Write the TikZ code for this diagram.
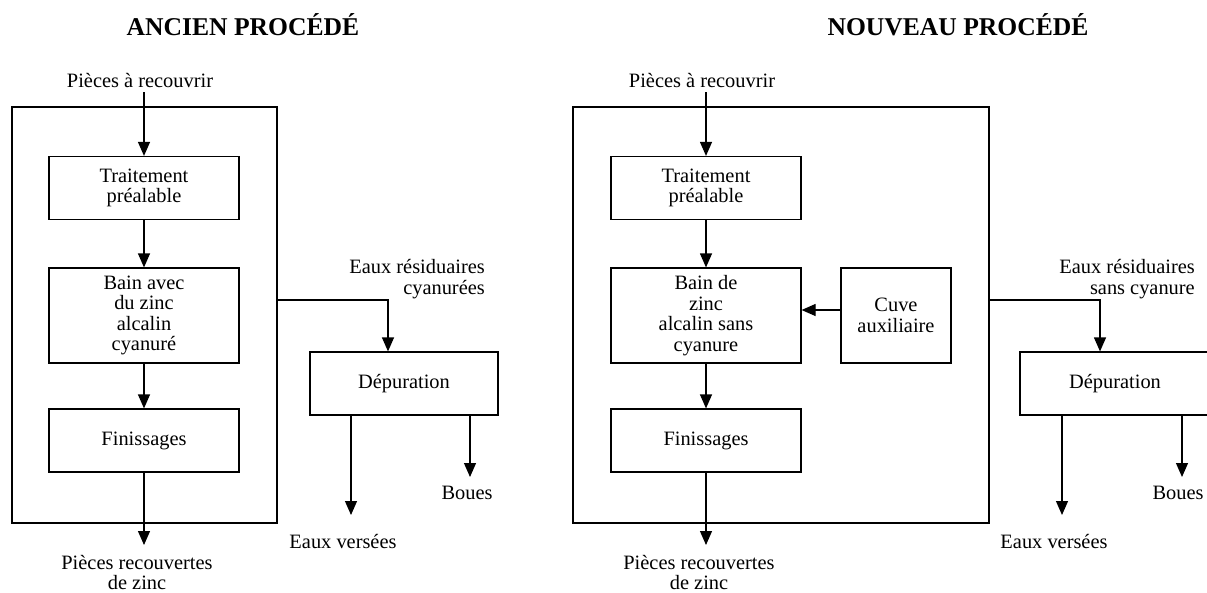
\documentclass[tikz,border=0pt]{standalone}
\usepackage{fontspec}
\setmainfont{Liberation Serif}
\usetikzlibrary{arrows.meta,calc}

\begin{document}
\begin{tikzpicture}
  [
    x=1pt, y=-1pt,
    font=\fontsize{20.4}{20.5}\selectfont,
    block/.style =
      {draw, rectangle, align=center, line width=1.2pt, inner sep=0pt,
       minimum width=190pt, minimum height=63pt},
    cadre/.style =
      {draw, rectangle, line width=1.2pt, minimum height=416pt},
    titre/.style =
      {font=\fontsize{25.6}{28}\selectfont\bfseries, inner sep=0pt},
    texte/.style =
      {align=center, inner sep=0pt},
    fleche/.style =
      {line width=1.2pt, -{Triangle[length=14pt, width=12pt]}}
  ]

\useasboundingbox (0,0) rectangle (1207,592);

% ancien procede
\node[titre, anchor=base] (titreA) at (243,35) {ANCIEN PROCÉDÉ};
\node[cadre, minimum width=265pt] (cadreA) at (144.5,315) {};

\node[texte, anchor=base, outer sep=5pt] (entreeA) at (140,87) {Pièces à recouvrir};
\node[block] (traitA) at (144,188) {Traitement\\préalable};
\node[block, minimum height=95pt] (bainA) at (144,315.5) {Bain avec\\du zinc\\alcalin\\cyanuré};
\node[block] (finA) at (144,440.5) {Finissages};
\node[texte, anchor=north, outer sep=10pt] (sortieA) at (137,545) {Pièces recouvertes\\de zinc};

\node[texte, align=right, anchor=south east] (residA) at (485,299) {Eaux résiduaires\\cyanurées};
\node[block, minimum width=188pt] (depA) at (404,383.5) {Dépuration};
\node[texte, anchor=base] (versA) at (343,548) {Eaux versées};
\node[texte, anchor=base] (bouesA) at (467,499) {Boues};

\coordinate (residA-coude) at (388,300);
\coordinate (versA-fin) at (351,515);
\coordinate (bouesA-fin) at (470,477);

\draw[fleche] (entreeA.south -| traitA) -- (traitA);
\draw[fleche] (traitA) -- (bainA);
\draw[fleche] (bainA) -- (finA);
\draw[fleche] (finA) -- (finA |- sortieA.north);
\draw[fleche] (cadreA.east |- residA-coude) -- (residA-coude) -- (residA-coude |- depA.north);
\draw[fleche] (depA.south -| versA-fin) -- (versA-fin);
\draw[fleche] (depA.south -| bouesA-fin) -- (bouesA-fin);

% nouveau procede
\node[titre, anchor=base] (titreB) at (958,35) {NOUVEAU PROCÉDÉ};
\node[cadre, minimum width=416pt] (cadreB) at (781,315) {};

\node[texte, anchor=base, outer sep=5pt] (entreeB) at (702,87) {Pièces à recouvrir};
\node[block] (traitB) at (706,188) {Traitement\\préalable};
\node[block, minimum height=95pt] (bainB) at (706,315.5) {Bain de\\zinc\\alcalin sans\\cyanure};
\node[block, minimum width=110pt, minimum height=95pt] (cuveB) at (896,315.5) {Cuve\\auxiliaire};
\node[block] (finB) at (706,440.5) {Finissages};
\node[texte, anchor=north, outer sep=10pt] (sortieB) at (699,545) {Pièces recouvertes\\de zinc};

\node[texte, align=right, anchor=south east] (residB) at (1195,299) {Eaux résiduaires\\sans cyanure};
\node[block] (depB) at (1115,383.5) {Dépuration};
\node[texte, anchor=base] (versB) at (1054,548) {Eaux versées};
\node[texte, anchor=base] (bouesB) at (1178,499) {Boues};

\coordinate (residB-coude) at (1100,300);
\coordinate (versB-fin) at (1062,515);
\coordinate (bouesB-fin) at (1182,477);

\draw[fleche] (entreeB.south -| traitB) -- (traitB);
\draw[fleche] (traitB) -- (bainB);
\draw[fleche] (bainB) -- (finB);
\draw[fleche] ([yshift=5.5pt]cuveB.west) -- ([yshift=5.5pt]bainB.east);
\draw[fleche] (finB) -- (finB |- sortieB.north);
\draw[fleche] (cadreB.east |- residB-coude) -- (residB-coude) -- (residB-coude |- depB.north);
\draw[fleche] (depB.south -| versB-fin) -- (versB-fin);
\draw[fleche] (depB.south -| bouesB-fin) -- (bouesB-fin);

\end{tikzpicture}
\end{document}
